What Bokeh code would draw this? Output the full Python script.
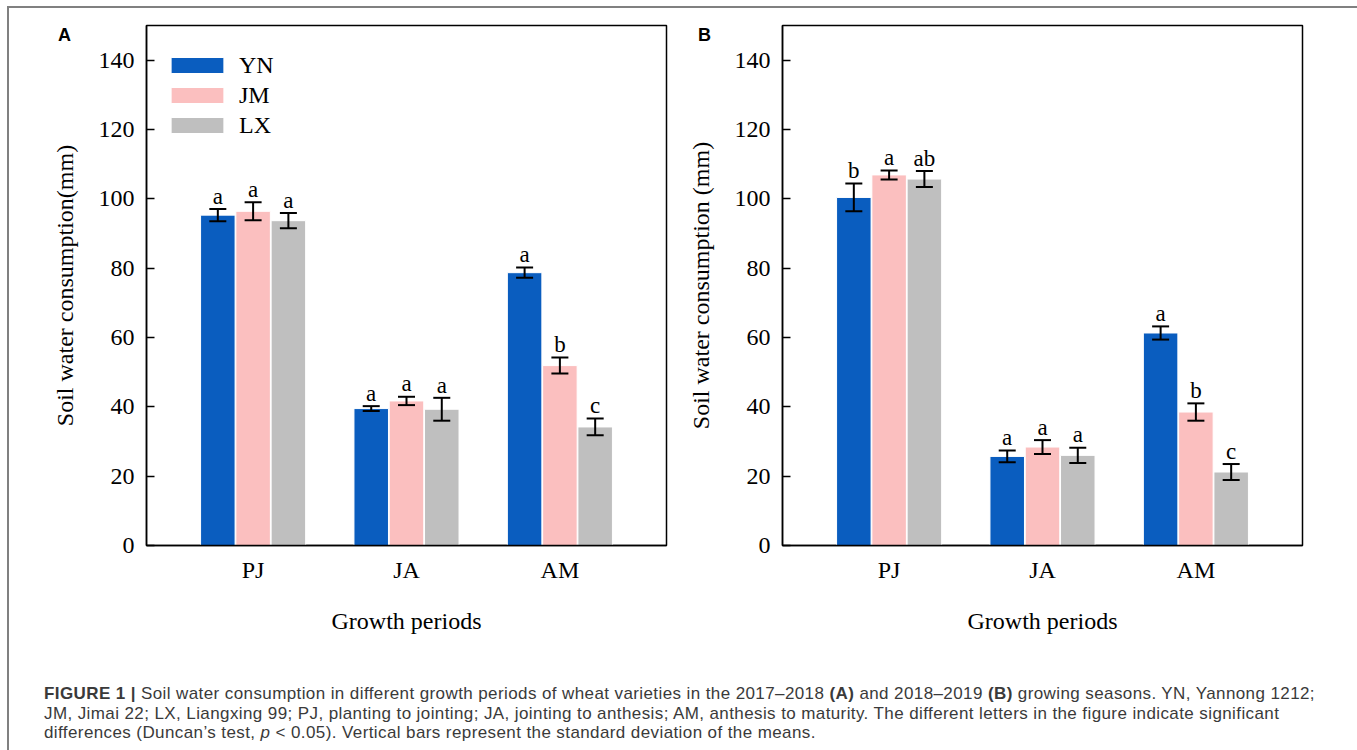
from bokeh.plotting import figure
from bokeh.models import ColumnDataSource, FactorRange, Range1d, Whisker, TeeHead, Label, FixedTicker, Div
from bokeh.transform import dodge
from bokeh.layouts import row, column
from bokeh.core.properties import value
from bokeh.embed import file_html
from bokeh.resources import INLINE

# ---------------- data ----------------
periods = ["PJ", "JA", "AM"]
varieties = ["YN", "JM", "LX"]
colors = ["#0A5DBF", "#FBBFBF", "#BFBFBF"]
y_ticks = [0, 20, 40, 60, 80, 100, 120, 140]

# Panel A (2017-2018)
a_yn = [95.3, 39.5, 78.7]
a_yn_sd = [1.8, 0.7, 1.5]
a_yn_sig = ["a", "a", "a"]
a_jm = [96.4, 41.7, 51.9]
a_jm_sd = [2.6, 1.2, 2.3]
a_jm_sig = ["a", "a", "b"]
a_lx = [93.7, 39.3, 34.2]
a_lx_sd = [2.2, 3.3, 2.4]
a_lx_sig = ["a", "a", "c"]

# Panel B (2018-2019)
b_yn = [100.4, 25.7, 61.3]
b_yn_sd = [4.0, 1.7, 1.9]
b_yn_sig = ["b", "a", "a"]
b_jm = [106.9, 28.4, 38.5]
b_jm_sd = [1.3, 2.0, 2.5]
b_jm_sig = ["a", "a", "b"]
b_lx = [105.7, 26.0, 21.2]
b_lx_sd = [2.3, 2.2, 2.3]
b_lx_sig = ["ab", "a", "c"]

SERIF = "Liberation Serif"
Y_MAX = 150.0
FRAME_H = 520
FRAME_W = 520
RANGE_PAD = 0.13
PX_PER_UNIT = FRAME_H / Y_MAX
X_PAD = RANGE_PAD * len(periods) / 2.0
PX_PER_CAT = FRAME_W / (len(periods) * (1 + RANGE_PAD))


def make_panel(tag, means, sds, sigs, ylabel, ml, mr, legend, tag_dx, tag_side):
    p = figure(x_range=FactorRange(*periods, range_padding=RANGE_PAD),
               y_range=Range1d(0, Y_MAX),
               frame_width=FRAME_W, frame_height=FRAME_H,
               min_border_left=ml, min_border_right=mr,
               min_border_top=17, min_border_bottom=100,
               output_backend="svg", toolbar_location=None,
               background_fill_color="white", border_fill_color="white")
    offsets = [-0.23, 0.0, 0.23]
    for var, m, s, g, off, col in zip(varieties, means, sds, sigs, offsets, colors):
        upper = [a + b for a, b in zip(m, s)]
        src = ColumnDataSource(dict(period=periods, mean=m,
                                    upper=upper,
                                    lower=[a - b for a, b in zip(m, s)],
                                    sig_y=[u + 12.8 / PX_PER_UNIT for u in upper],
                                    sig=g))
        kw = dict(legend_label=var) if legend else {}
        p.vbar(x=dodge("period", off, range=p.x_range), top="mean", width=0.225,
               source=src, fill_color=col, line_color="white", line_width=1, **kw)
        w = Whisker(source=src, base=dodge("period", off, range=p.x_range),
                    upper="upper", lower="lower", line_color="black", line_width=2,
                    upper_head=TeeHead(size=17, line_width=2, line_color="black"),
                    lower_head=TeeHead(size=17, line_width=2, line_color="black"),
                    level="annotation")
        p.add_layout(w)
        p.text(x=dodge("period", off, range=p.x_range), y="sig_y", text="sig", source=src,
               text_align="center", text_baseline="middle",
               text_font=value(SERIF), text_font_size="23px", text_color="black")

    p.xgrid.grid_line_color = None
    p.ygrid.grid_line_color = None
    p.outline_line_color = "black"
    p.outline_line_width = 1.5
    p.outline_line_alpha = 1.0

    xa = p.xaxis[0]
    xa.axis_label = "Growth periods"
    xa.axis_label_text_font = SERIF
    xa.axis_label_text_font_style = "normal"
    xa.axis_label_text_font_size = "24px"
    xa.axis_label_text_color = "black"
    xa.axis_label_standoff = 22
    xa.major_label_text_font = SERIF
    xa.major_label_text_font_size = "24px"
    xa.major_label_text_color = "black"
    xa.major_label_standoff = 11
    xa.major_tick_in = 0
    xa.major_tick_out = 0
    xa.minor_tick_line_color = None
    xa.axis_line_color = "black"
    xa.axis_line_width = 1.5

    ya = p.yaxis[0]
    ya.ticker = FixedTicker(ticks=y_ticks)
    ya.axis_label = ylabel
    ya.axis_label_text_font = SERIF
    ya.axis_label_text_font_style = "normal"
    ya.axis_label_text_font_size = "24px"
    ya.axis_label_text_color = "black"
    ya.axis_label_standoff = 18
    ya.major_label_text_font = SERIF
    ya.major_label_text_font_size = "24px"
    ya.major_label_text_color = "black"
    ya.major_label_standoff = 12
    ya.major_tick_in = 8
    ya.major_tick_out = 0
    ya.major_tick_line_width = 1.5
    ya.major_tick_line_color = "black"
    ya.minor_tick_line_color = None
    ya.axis_line_color = "black"
    ya.axis_line_width = 1.5

    if legend:
        lg = p.legend[0]
        lg.location = (18, 405)
        lg.margin = 0
        lg.padding = 0
        lg.spacing = 0
        lg.glyph_width = 66
        lg.glyph_height = 20
        lg.label_height = 30
        lg.label_standoff = 9
        lg.label_text_font = SERIF
        lg.label_text_font_size = "24px"
        lg.label_text_color = "black"
        lg.label_text_baseline = "middle"
        lg.border_line_color = None
        lg.background_fill_alpha = 0

    # panel tag placed in a side panel (side-panel annotations are not clipped to the frame)
    p.add_layout(Label(x=-X_PAD - tag_dx / PX_PER_CAT, y=Y_MAX - 9.0 / PX_PER_UNIT,
                       text=tag, text_font="Liberation Sans", text_font_style="bold",
                       text_font_size="18px", text_align="center", text_baseline="middle",
                       text_color="black"), tag_side)
    return p


pA = make_panel("A", [a_yn, a_jm, a_lx], [a_yn_sd, a_jm_sd, a_lx_sd],
                [a_yn_sig, a_jm_sig, a_lx_sig], "Soil water consumption(mm)", 137, 14, True, 82, "left")
pB = make_panel("B", [b_yn, b_jm, b_lx], [b_yn_sd, b_jm_sd, b_lx_sd],
                [b_yn_sig, b_jm_sig, b_lx_sig], "Soil water consumption (mm)", 102, 50, False, 78, "right")

caption_html = (
    '<div style="font-family:\'Liberation Sans\',Arial,sans-serif;font-size:17px;letter-spacing:0.4px;'
    'line-height:19.5px;color:#3a3a3a;padding:34px 0 0 30px;white-space:nowrap">'
    '<b>FIGURE 1 |</b> Soil water consumption in different growth periods of wheat varieties in the '
    '2017–2018 <b>(A)</b> and 2018–2019 <b>(B)</b> growing seasons. YN, Yannong 1212;<br>'
    'JM, Jimai 22; LX, Liangxing 99; PJ, planting to jointing; JA, jointing to anthesis; AM, anthesis '
    'to maturity. The different letters in the figure indicate significant<br>'
    'differences (Duncan’s test, <i>p</i> &lt; 0.05). Vertical bars represent the standard deviation '
    'of the means.</div>'
)
cap = Div(text=caption_html, width=1343, height=97)

layout = column(row(pA, pB), cap,
                styles={"border-top": "2px solid #808080",
                        "border-left": "2px solid #808080",
                        "border-right": "2px solid #808080",
                        "margin-left": "7px", "margin-top": "6px"})

open("out.html", "w").write(file_html(layout, INLINE))
